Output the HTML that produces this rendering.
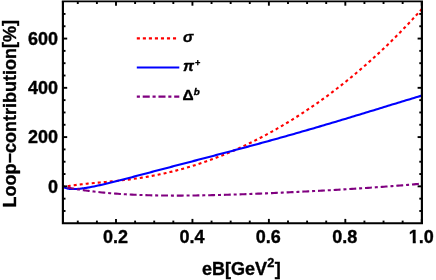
<!DOCTYPE html>
<html><head><meta charset="utf-8"><style>
html,body{margin:0;padding:0;background:#fff;}
svg{display:block;will-change:transform;}
text{font-family:"Liberation Sans",sans-serif;font-weight:bold;fill:#000;stroke:#000;stroke-width:0.35px;stroke-linejoin:round;}
</style></head><body>
<svg width="436" height="280" viewBox="0 0 436 280">
<rect width="436" height="280" fill="#fff"/>
<g fill="none" stroke-linejoin="round" stroke-width="2.1">
<path d="M62.90 186.25 L63.65 186.66 L64.40 186.64 L65.15 186.56 L65.90 186.46 L66.65 186.35 L67.40 186.23 L68.15 186.11 L68.90 186.00 L69.65 185.88 L70.40 185.76 L71.15 185.65 L71.90 185.53 L72.65 185.42 L73.40 185.31 L74.15 185.21 L74.90 185.10 L75.65 185.00 L76.40 184.90 L77.15 184.80 L77.90 184.71 L78.65 184.62 L79.40 184.52 L80.15 184.43 L80.90 184.35 L81.65 184.26 L82.40 184.18 L83.15 184.09 L83.90 184.01 L84.65 183.93 L85.40 183.85 L86.15 183.78 L86.90 183.70 L87.65 183.62 L88.40 183.55 L89.15 183.48 L89.90 183.40 L90.00 183.39 L92.00 183.21 L94.00 183.02 L96.00 182.84 L98.00 182.66 L100.00 182.47 L102.00 182.29 L104.00 182.11 L106.00 181.93 L108.00 181.74 L110.00 181.55 L112.00 181.36 L114.00 181.16 L116.00 180.96 L118.00 180.75 L120.00 180.53 L122.00 180.31 L124.00 180.08 L126.00 179.84 L128.00 179.59 L130.00 179.34 L132.00 179.08 L134.00 178.80 L136.00 178.52 L138.00 178.23 L140.00 177.93 L142.00 177.62 L144.00 177.30 L146.00 176.96 L148.00 176.62 L150.00 176.27 L152.00 175.90 L154.00 175.53 L156.00 175.14 L158.00 174.74 L160.00 174.33 L162.00 173.91 L164.00 173.47 L166.00 173.03 L168.00 172.57 L170.00 172.10 L172.00 171.61 L174.00 171.12 L176.00 170.61 L178.00 170.09 L180.00 169.56 L182.00 169.02 L184.00 168.46 L186.00 167.89 L188.00 167.31 L190.00 166.72 L192.00 166.11 L194.00 165.49 L196.00 164.86 L198.00 164.22 L200.00 163.56 L202.00 162.89 L204.00 162.21 L206.00 161.51 L208.00 160.81 L210.00 160.09 L212.00 159.35 L214.00 158.61 L216.00 157.85 L218.00 157.08 L220.00 156.30 L222.00 155.50 L224.00 154.69 L226.00 153.87 L228.00 153.04 L230.00 152.20 L232.00 151.34 L234.00 150.47 L236.00 149.58 L238.00 148.69 L240.00 147.78 L242.00 146.86 L244.00 145.92 L246.00 144.98 L248.00 144.02 L250.00 143.05 L252.00 142.07 L254.00 141.07 L256.00 140.06 L258.00 139.04 L260.00 138.01 L262.00 136.96 L264.00 135.90 L266.00 134.83 L268.00 133.75 L270.00 132.65 L272.00 131.55 L274.00 130.43 L276.00 129.29 L278.00 128.15 L280.00 126.99 L282.00 125.82 L284.00 124.63 L286.00 123.44 L288.00 122.23 L290.00 121.01 L292.00 119.77 L294.00 118.52 L296.00 117.26 L298.00 115.99 L300.00 114.70 L302.00 113.41 L304.00 112.09 L306.00 110.77 L308.00 109.43 L310.00 108.08 L312.00 106.72 L314.00 105.34 L316.00 103.95 L318.00 102.55 L320.00 101.13 L322.00 99.70 L324.00 98.26 L326.00 96.80 L328.00 95.33 L330.00 93.84 L332.00 92.35 L334.00 90.83 L336.00 89.31 L338.00 87.77 L340.00 86.21 L342.00 84.64 L344.00 83.06 L346.00 81.46 L348.00 79.85 L350.00 78.23 L352.00 76.58 L354.00 74.93 L356.00 73.26 L358.00 71.57 L360.00 69.87 L362.00 68.15 L364.00 66.42 L366.00 64.68 L368.00 62.91 L370.00 61.14 L372.00 59.34 L374.00 57.53 L376.00 55.70 L378.00 53.86 L380.00 52.00 L382.00 50.13 L384.00 48.23 L386.00 46.32 L388.00 44.40 L390.00 42.45 L392.00 40.49 L394.00 38.51 L396.00 36.52 L398.00 34.50 L400.00 32.47 L402.00 30.42 L404.00 28.35 L406.00 26.26 L408.00 24.16 L410.00 22.03 L412.00 19.89 L414.00 17.72 L416.00 15.54 L418.00 13.33 L420.00 11.11 L421.90 8.98" stroke="#ff0000" stroke-dasharray="3 3.047" stroke-dashoffset="1.1"/>
<path d="M62.90 186.23 L63.65 187.08 L64.40 187.52 L65.15 187.85 L65.90 188.11 L66.65 188.33 L67.40 188.50 L68.15 188.65 L68.90 188.76 L69.65 188.86 L70.40 188.93 L71.15 188.98 L71.90 189.02 L72.65 189.04 L73.40 189.05 L74.15 189.05 L74.90 189.03 L75.65 189.01 L76.40 188.97 L77.15 188.93 L77.90 188.88 L78.65 188.82 L79.40 188.75 L80.15 188.67 L80.90 188.59 L81.65 188.51 L82.40 188.41 L83.15 188.31 L83.90 188.21 L84.65 188.10 L85.40 187.99 L86.15 187.87 L86.90 187.75 L87.65 187.62 L88.40 187.49 L89.15 187.36 L89.90 187.23 L90.00 187.21 L92.00 186.83 L94.00 186.43 L96.00 186.02 L98.00 185.59 L100.00 185.14 L102.00 184.69 L104.00 184.23 L106.00 183.75 L108.00 183.27 L110.00 182.78 L112.00 182.29 L114.00 181.79 L116.00 181.29 L118.00 180.78 L120.00 180.27 L122.00 179.75 L124.00 179.23 L126.00 178.72 L128.00 178.19 L130.00 177.67 L132.00 177.15 L134.00 176.62 L136.00 176.10 L138.00 175.57 L140.00 175.04 L142.00 174.52 L144.00 173.99 L146.00 173.46 L148.00 172.94 L150.00 172.41 L152.00 171.88 L154.00 171.35 L156.00 170.83 L158.00 170.30 L160.00 169.78 L162.00 169.25 L164.00 168.72 L166.00 168.20 L168.00 167.67 L170.00 167.15 L172.00 166.63 L174.00 166.10 L176.00 165.58 L178.00 165.06 L180.00 164.53 L182.00 164.01 L184.00 163.49 L186.00 162.97 L188.00 162.44 L190.00 161.92 L192.00 161.40 L194.00 160.88 L196.00 160.36 L198.00 159.83 L200.00 159.31 L202.00 158.79 L204.00 158.27 L206.00 157.74 L208.00 157.22 L210.00 156.70 L212.00 156.17 L214.00 155.65 L216.00 155.12 L218.00 154.60 L220.00 154.07 L222.00 153.55 L224.00 153.02 L226.00 152.49 L228.00 151.96 L230.00 151.43 L232.00 150.90 L234.00 150.37 L236.00 149.84 L238.00 149.31 L240.00 148.78 L242.00 148.24 L244.00 147.70 L246.00 147.17 L248.00 146.63 L250.00 146.09 L252.00 145.55 L254.00 145.01 L256.00 144.47 L258.00 143.92 L260.00 143.38 L262.00 142.83 L264.00 142.28 L266.00 141.74 L268.00 141.19 L270.00 140.63 L272.00 140.08 L274.00 139.53 L276.00 138.97 L278.00 138.41 L280.00 137.85 L282.00 137.29 L284.00 136.73 L286.00 136.17 L288.00 135.61 L290.00 135.04 L292.00 134.47 L294.00 133.90 L296.00 133.33 L298.00 132.76 L300.00 132.19 L302.00 131.61 L304.00 131.04 L306.00 130.46 L308.00 129.88 L310.00 129.30 L312.00 128.72 L314.00 128.14 L316.00 127.55 L318.00 126.97 L320.00 126.38 L322.00 125.79 L324.00 125.20 L326.00 124.61 L328.00 124.02 L330.00 123.42 L332.00 122.83 L334.00 122.23 L336.00 121.64 L338.00 121.04 L340.00 120.44 L342.00 119.84 L344.00 119.24 L346.00 118.64 L348.00 118.03 L350.00 117.43 L352.00 116.82 L354.00 116.22 L356.00 115.61 L358.00 115.00 L360.00 114.40 L362.00 113.79 L364.00 113.18 L366.00 112.57 L368.00 111.96 L370.00 111.35 L372.00 110.74 L374.00 110.13 L376.00 109.51 L378.00 108.90 L380.00 108.29 L382.00 107.68 L384.00 107.07 L386.00 106.46 L388.00 105.84 L390.00 105.23 L392.00 104.62 L394.00 104.01 L396.00 103.40 L398.00 102.79 L400.00 102.18 L402.00 101.57 L404.00 100.96 L406.00 100.35 L408.00 99.75 L410.00 99.14 L412.00 98.54 L414.00 97.93 L416.00 97.33 L418.00 96.73 L420.00 96.13 L421.90 95.56" stroke="#0000ff"/>
<path d="M62.90 186.21 L63.65 186.59 L64.40 186.79 L65.15 186.97 L65.90 187.14 L66.65 187.31 L67.40 187.46 L68.15 187.61 L68.90 187.76 L69.65 187.91 L70.40 188.05 L71.15 188.19 L71.90 188.32 L72.65 188.46 L73.40 188.59 L74.15 188.72 L74.90 188.85 L75.65 188.98 L76.40 189.10 L77.15 189.23 L77.90 189.35 L78.65 189.47 L79.40 189.58 L80.15 189.70 L80.90 189.82 L81.65 189.93 L82.40 190.04 L83.15 190.15 L83.90 190.26 L84.65 190.36 L85.40 190.47 L86.15 190.57 L86.90 190.68 L87.65 190.78 L88.40 190.88 L89.15 190.97 L89.90 191.07 L90.00 191.08 L92.00 191.33 L94.00 191.58 L96.00 191.81 L98.00 192.03 L100.00 192.24 L102.00 192.45 L104.00 192.65 L106.00 192.84 L108.00 193.02 L110.00 193.19 L112.00 193.35 L114.00 193.51 L116.00 193.66 L118.00 193.81 L120.00 193.94 L122.00 194.07 L124.00 194.20 L126.00 194.32 L128.00 194.43 L130.00 194.53 L132.00 194.63 L134.00 194.72 L136.00 194.81 L138.00 194.89 L140.00 194.97 L142.00 195.04 L144.00 195.11 L146.00 195.17 L148.00 195.23 L150.00 195.28 L152.00 195.33 L154.00 195.37 L156.00 195.41 L158.00 195.45 L160.00 195.48 L162.00 195.51 L164.00 195.53 L166.00 195.55 L168.00 195.56 L170.00 195.57 L172.00 195.58 L174.00 195.59 L176.00 195.59 L178.00 195.59 L180.00 195.58 L182.00 195.58 L184.00 195.56 L186.00 195.55 L188.00 195.53 L190.00 195.52 L192.00 195.49 L194.00 195.47 L196.00 195.44 L198.00 195.41 L200.00 195.38 L202.00 195.35 L204.00 195.31 L206.00 195.27 L208.00 195.23 L210.00 195.19 L212.00 195.14 L214.00 195.10 L216.00 195.05 L218.00 195.00 L220.00 194.95 L222.00 194.89 L224.00 194.84 L226.00 194.78 L228.00 194.72 L230.00 194.66 L232.00 194.60 L234.00 194.53 L236.00 194.47 L238.00 194.40 L240.00 194.33 L242.00 194.26 L244.00 194.19 L246.00 194.12 L248.00 194.05 L250.00 193.97 L252.00 193.90 L254.00 193.82 L256.00 193.74 L258.00 193.66 L260.00 193.58 L262.00 193.50 L264.00 193.42 L266.00 193.34 L268.00 193.25 L270.00 193.17 L272.00 193.08 L274.00 192.99 L276.00 192.90 L278.00 192.81 L280.00 192.72 L282.00 192.63 L284.00 192.54 L286.00 192.45 L288.00 192.35 L290.00 192.26 L292.00 192.16 L294.00 192.07 L296.00 191.97 L298.00 191.87 L300.00 191.77 L302.00 191.67 L304.00 191.57 L306.00 191.47 L308.00 191.36 L310.00 191.26 L312.00 191.16 L314.00 191.05 L316.00 190.95 L318.00 190.84 L320.00 190.73 L322.00 190.62 L324.00 190.51 L326.00 190.40 L328.00 190.29 L330.00 190.18 L332.00 190.06 L334.00 189.95 L336.00 189.83 L338.00 189.72 L340.00 189.60 L342.00 189.48 L344.00 189.36 L346.00 189.24 L348.00 189.12 L350.00 188.99 L352.00 188.87 L354.00 188.75 L356.00 188.62 L358.00 188.49 L360.00 188.36 L362.00 188.23 L364.00 188.10 L366.00 187.97 L368.00 187.83 L370.00 187.70 L372.00 187.56 L374.00 187.43 L376.00 187.29 L378.00 187.15 L380.00 187.00 L382.00 186.86 L384.00 186.71 L386.00 186.57 L388.00 186.42 L390.00 186.27 L392.00 186.12 L394.00 185.96 L396.00 185.81 L398.00 185.65 L400.00 185.49 L402.00 185.33 L404.00 185.17 L406.00 185.01 L408.00 184.84 L410.00 184.67 L412.00 184.50 L414.00 184.33 L416.00 184.16 L418.00 183.98 L420.00 183.80 L421.90 183.63" stroke="#800080" stroke-dasharray="6.9 2.9 3 2.9" stroke-dashoffset="11.05"/>
</g>
<g stroke="#000" stroke-width="1.9"><line x1="77.78" y1="223.20" x2="77.78" y2="220.60"/><line x1="77.78" y1="1.40" x2="77.78" y2="4.00"/><line x1="96.89" y1="223.20" x2="96.89" y2="220.60"/><line x1="96.89" y1="1.40" x2="96.89" y2="4.00"/><line x1="116.00" y1="223.20" x2="116.00" y2="218.90"/><line x1="116.00" y1="1.40" x2="116.00" y2="5.70"/><line x1="135.11" y1="223.20" x2="135.11" y2="220.60"/><line x1="135.11" y1="1.40" x2="135.11" y2="4.00"/><line x1="154.22" y1="223.20" x2="154.22" y2="220.60"/><line x1="154.22" y1="1.40" x2="154.22" y2="4.00"/><line x1="173.33" y1="223.20" x2="173.33" y2="220.60"/><line x1="173.33" y1="1.40" x2="173.33" y2="4.00"/><line x1="192.44" y1="223.20" x2="192.44" y2="218.90"/><line x1="192.44" y1="1.40" x2="192.44" y2="5.70"/><line x1="211.55" y1="223.20" x2="211.55" y2="220.60"/><line x1="211.55" y1="1.40" x2="211.55" y2="4.00"/><line x1="230.66" y1="223.20" x2="230.66" y2="220.60"/><line x1="230.66" y1="1.40" x2="230.66" y2="4.00"/><line x1="249.77" y1="223.20" x2="249.77" y2="220.60"/><line x1="249.77" y1="1.40" x2="249.77" y2="4.00"/><line x1="268.88" y1="223.20" x2="268.88" y2="218.90"/><line x1="268.88" y1="1.40" x2="268.88" y2="5.70"/><line x1="287.99" y1="223.20" x2="287.99" y2="220.60"/><line x1="287.99" y1="1.40" x2="287.99" y2="4.00"/><line x1="307.10" y1="223.20" x2="307.10" y2="220.60"/><line x1="307.10" y1="1.40" x2="307.10" y2="4.00"/><line x1="326.21" y1="223.20" x2="326.21" y2="220.60"/><line x1="326.21" y1="1.40" x2="326.21" y2="4.00"/><line x1="345.32" y1="223.20" x2="345.32" y2="218.90"/><line x1="345.32" y1="1.40" x2="345.32" y2="5.70"/><line x1="364.43" y1="223.20" x2="364.43" y2="220.60"/><line x1="364.43" y1="1.40" x2="364.43" y2="4.00"/><line x1="383.54" y1="223.20" x2="383.54" y2="220.60"/><line x1="383.54" y1="1.40" x2="383.54" y2="4.00"/><line x1="402.65" y1="223.20" x2="402.65" y2="220.60"/><line x1="402.65" y1="1.40" x2="402.65" y2="4.00"/><line x1="421.76" y1="223.20" x2="421.76" y2="218.90"/><line x1="421.76" y1="1.40" x2="421.76" y2="5.70"/><line x1="62.90" y1="210.98" x2="65.50" y2="210.98"/><line x1="421.90" y1="210.98" x2="419.30" y2="210.98"/><line x1="62.90" y1="198.66" x2="65.50" y2="198.66"/><line x1="421.90" y1="198.66" x2="419.30" y2="198.66"/><line x1="62.90" y1="186.35" x2="67.20" y2="186.35"/><line x1="421.90" y1="186.35" x2="417.60" y2="186.35"/><line x1="62.90" y1="174.03" x2="65.50" y2="174.03"/><line x1="421.90" y1="174.03" x2="419.30" y2="174.03"/><line x1="62.90" y1="161.72" x2="65.50" y2="161.72"/><line x1="421.90" y1="161.72" x2="419.30" y2="161.72"/><line x1="62.90" y1="149.41" x2="65.50" y2="149.41"/><line x1="421.90" y1="149.41" x2="419.30" y2="149.41"/><line x1="62.90" y1="137.09" x2="67.20" y2="137.09"/><line x1="421.90" y1="137.09" x2="417.60" y2="137.09"/><line x1="62.90" y1="124.78" x2="65.50" y2="124.78"/><line x1="421.90" y1="124.78" x2="419.30" y2="124.78"/><line x1="62.90" y1="112.46" x2="65.50" y2="112.46"/><line x1="421.90" y1="112.46" x2="419.30" y2="112.46"/><line x1="62.90" y1="100.14" x2="65.50" y2="100.14"/><line x1="421.90" y1="100.14" x2="419.30" y2="100.14"/><line x1="62.90" y1="87.83" x2="67.20" y2="87.83"/><line x1="421.90" y1="87.83" x2="417.60" y2="87.83"/><line x1="62.90" y1="75.52" x2="65.50" y2="75.52"/><line x1="421.90" y1="75.52" x2="419.30" y2="75.52"/><line x1="62.90" y1="63.20" x2="65.50" y2="63.20"/><line x1="421.90" y1="63.20" x2="419.30" y2="63.20"/><line x1="62.90" y1="50.88" x2="65.50" y2="50.88"/><line x1="421.90" y1="50.88" x2="419.30" y2="50.88"/><line x1="62.90" y1="38.57" x2="67.20" y2="38.57"/><line x1="421.90" y1="38.57" x2="417.60" y2="38.57"/><line x1="62.90" y1="26.25" x2="65.50" y2="26.25"/><line x1="421.90" y1="26.25" x2="419.30" y2="26.25"/><line x1="62.90" y1="13.94" x2="65.50" y2="13.94"/><line x1="421.90" y1="13.94" x2="419.30" y2="13.94"/></g>
<path d="M62.9 1.4 V223.2 H421.9 V1.4" fill="none" stroke="#000" stroke-width="2.15" stroke-linejoin="miter"/><line x1="61.824999999999996" y1="1.43" x2="422.97499999999997" y2="1.43" stroke="#000" stroke-width="1.8"/>
<g font-size="18"><text x="115.50" y="243.10" text-anchor="middle">0.2</text><text x="191.94" y="243.10" text-anchor="middle">0.4</text><text x="268.38" y="243.10" text-anchor="middle">0.6</text><text x="344.82" y="243.10" text-anchor="middle">0.8</text><text x="421.26" y="243.10" text-anchor="middle">1.0</text><text x="58.0" y="192.50" text-anchor="end">0</text><text x="58.0" y="143.24" text-anchor="end">200</text><text x="58.0" y="93.98" text-anchor="end">400</text><text x="58.0" y="44.72" text-anchor="end">600</text>
<text x="241.3" y="274.7" text-anchor="middle">eB[GeV<tspan font-size="12.8" dy="-7.6" dx="0.2">2</tspan><tspan dy="7.6" dx="0.3">]</tspan></text>
<text transform="translate(16.1 113.7) rotate(-90)" text-anchor="middle">Loop&#8722;contribution<tspan dy="-0.8">[</tspan><tspan dy="0.8">%</tspan><tspan dy="-0.8">]</tspan></text>
<rect x="408.6" y="240.80" width="4.15" height="3.6" fill="#fff"/><rect x="415.75" y="240.80" width="3.6" height="3.6" fill="#fff"/>
</g>
<g fill="none" stroke-width="2.2">
<line x1="136.8" y1="38.4" x2="178" y2="38.3" stroke="#ff0000" stroke-dasharray="3.1 2.93"/>
<line x1="136.8" y1="67.5" x2="179.3" y2="67.5" stroke="#0000ff"/>
<line x1="136.8" y1="96.6" x2="179.3" y2="96.6" stroke="#800080" stroke-dasharray="3.1 2.8 7.05 2.8"/>
</g>
<g font-size="15.5">
<text x="183.0" y="42.1" font-style="italic">σ</text>
<text x="183.0" y="71" ><tspan font-style="italic">π</tspan><tspan font-size="9.2" dy="-4.7" dx="1.0">+</tspan></text>
<text x="182.4" y="100.2">Δ<tspan font-size="9.8" dy="-5.6" dx="0.2" font-style="italic">b</tspan></text>
</g>
</svg>
</body></html>
